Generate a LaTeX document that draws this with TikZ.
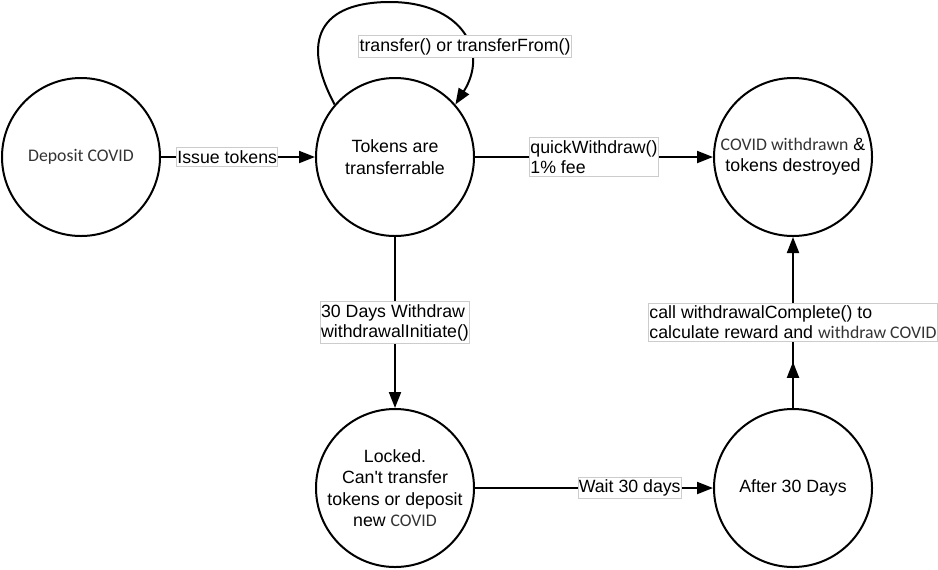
\documentclass[tikz,border=0pt]{standalone}
\usepackage{fontspec}
\setmainfont{Liberation Sans}
\newfontfamily\covidfont{Carlito}
\usetikzlibrary{arrows.meta,decorations.markings}
\definecolor{covidgray}{HTML}{333333}
\newcommand{\covid}[1]{{\covidfont\color{covidgray}#1}}

\tikzset{
  state/.style={draw, circle, line width=1.5pt, minimum size=118.5pt, inner sep=0pt,
    align=center, font=\fontsize{13.3}{16}\selectfont},
  trans/.style={line width=1.5pt, -{Triangle[length=12pt,width=9pt]}},
  midarrow/.style={postaction={decorate}, decoration={markings,
    mark=at position 0.27 with {\arrow{Triangle[length=12pt,width=9pt]}}}},
  lbl/.style={fill=white, draw=black!20, line width=0.75pt, inner xsep=0.5pt,
    inner ysep=2pt, align=left, font=\fontsize{13.3}{15}\selectfont},
}

\begin{document}
\begin{tikzpicture}[x=0.75pt, y=-0.75pt]
\useasboundingbox (0,0) rectangle (938,569);

% the states
\node[state] (dep) at (81,157) {\covid{Deposit COVID}};
\node[state] (tok) at (395,157) {Tokens are\\transferrable};
\node[state] (out) at (793,157) {\covid{COVID withdrawn} \&\\tokens destroyed};
\node[state] (lock) at (395,488) {Locked.\\Can\textquotesingle t transfer\\tokens or deposit\\new \covid{COVID}};
\node[state] (wait) at (793,488) {After 30 Days};

% the transitions
\draw[trans] (dep) -- node[lbl, pos=0.43] (issue) {Issue tokens} (tok);
\draw[trans] (tok) -- node[lbl] (quick) {quickWithdraw()\\1\% fee} (out);
\draw[trans] (tok) -- node[lbl] (init) {30 Days Withdraw\\withdrawalInitiate()} (lock);
\draw[trans] (lock) -- node[lbl, pos=0.65] (days) {Wait 30 days} (wait);
\draw[trans, midarrow] (wait) -- node[lbl] (done) {call withdrawalComplete() to\\calculate reward and \covid{withdraw COVID}} (out);

% self loop on the transferrable state
\draw[trans] (tok.139) .. controls (300,40) and (320,2) .. (390,2)
  .. controls (460,2) and (490,50) .. (tok.41);
\node[lbl] (loop) at (465,46.5) {transfer() or transferFrom()};
\end{tikzpicture}
\end{document}
